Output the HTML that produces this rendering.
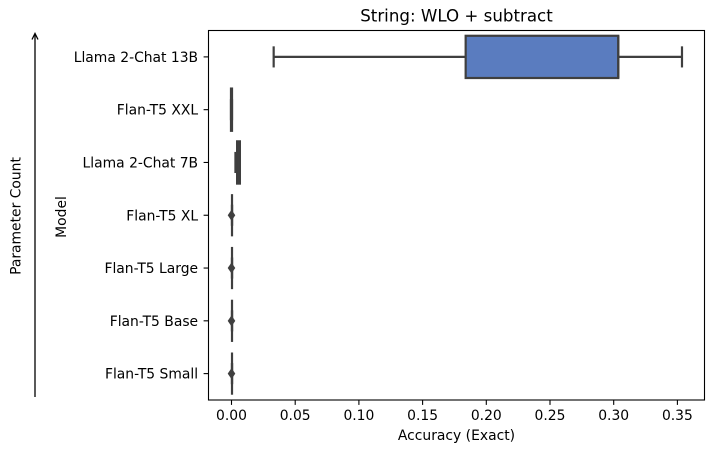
<!DOCTYPE html>
<html>
<head>
<meta charset="utf-8">
<style>
html,body{margin:0;padding:0;background:#fff;}
svg{display:block;}
text{font-family:"DejaVu Sans","Liberation Sans",sans-serif;fill:#000;}
</style>
</head>
<body>
<svg id="chart" xmlns="http://www.w3.org/2000/svg" width="714" height="453" viewBox="0 0 714 453">
  <rect x="0" y="0" width="714" height="453" fill="#fff"/>
  <text x="456.5" y="21.5" font-size="16.67" text-anchor="middle">String: WLO + subtract</text>
  <text x="456.5" y="440" font-size="13.89" text-anchor="middle">Accuracy (Exact)</text>
  <text transform="translate(66,217) rotate(-90)" font-size="13.89" text-anchor="middle">Model</text>
  <text transform="translate(20.5,216) rotate(-90)" font-size="13.89" text-anchor="middle">Parameter Count</text>
  <g fill="none" stroke="#000" stroke-width="1.3">
    <line x1="35" y1="397" x2="35" y2="34"/>
    <path d="M32 39.5 L35 33.5 L38 39.5"/>
  </g>
  <g id="marks"></g>
  <g id="axes"></g>
</svg>
<script>
const categories = ["Llama 2-Chat 13B","Flan-T5 XXL","Llama 2-Chat 7B","Flan-T5 XL","Flan-T5 Large","Flan-T5 Base","Flan-T5 Small"];
const whiskerLow = [0.0331,-0.0004,0.0031,0.0004,0.0004,0.0004,0.0004];
const q1Values = [0.1838,-0.0004,0.0044,0.0004,0.0004,0.0004,0.0004];
const medianValues = [0.3036,0.0000,0.0055,0.0004,0.0004,0.0004,0.0004];
const q3Values = [0.3036,0.0004,0.0066,0.0004,0.0004,0.0004,0.0004];
const whiskerHigh = [0.3536,0.0004,0.0066,0.0004,0.0004,0.0004,0.0004];
const outlierValues = [[],[],[],[0],[0],[0],[0]];
const xTicks = [0,0.05,0.10,0.15,0.20,0.25,0.30,0.35];
const xTickLabels = ["0.00","0.05","0.10","0.15","0.20","0.25","0.30","0.35"];

const NS = "http://www.w3.org/2000/svg";
const plot = {left:208.5,right:704.5,top:30.5,bottom:400};
const lineColor = "#3f3f3f";
const boxFill = "#5a7cbf";
const lineWidth = 2.2;
const bandHeight = (plot.bottom - plot.top) / categories.length;
function xScale(v){ return 231.5 + v * 1274; }
function yScale(i){ return plot.top + bandHeight * (i + 0.5); }
function make(tag, parent, props){
  const el = document.createElementNS(NS, tag);
  for (const k in props) el.setAttribute(k, props[k]);
  parent.appendChild(el);
  return el;
}
const marks = document.getElementById("marks");
const axes = document.getElementById("axes");

categories.forEach(function(cat, i){
  const cy = yScale(i);
  const half = bandHeight * 0.4;
  const capHalf = half / 2;
  const g = make("g", marks, {});
  
  

  const wl = make("line", g, {x1:xScale(whiskerLow[i]),x2:xScale(q1Values[i]),y1:cy,y2:cy,stroke:lineColor,"stroke-width":lineWidth});
  
  

  const wh = make("line", g, {x1:xScale(q3Values[i]),x2:xScale(whiskerHigh[i]),y1:cy,y2:cy,stroke:lineColor,"stroke-width":lineWidth});
  
  

  const cl = make("line", g, {x1:xScale(whiskerLow[i]),x2:xScale(whiskerLow[i]),y1:cy-capHalf,y2:cy+capHalf,stroke:lineColor,"stroke-width":lineWidth});
  
  

  const ch = make("line", g, {x1:xScale(whiskerHigh[i]),x2:xScale(whiskerHigh[i]),y1:cy-capHalf,y2:cy+capHalf,stroke:lineColor,"stroke-width":lineWidth});
  
  

  const box = make("rect", g, {x:xScale(q1Values[i]),y:cy-half,width:xScale(q3Values[i])-xScale(q1Values[i]),height:half*2,fill:boxFill,stroke:lineColor,"stroke-width":lineWidth});
  
  

  const med = make("line", g, {x1:xScale(medianValues[i]),x2:xScale(medianValues[i]),y1:cy-half,y2:cy+half,stroke:lineColor,"stroke-width":lineWidth});
  
  

  outlierValues[i].forEach(function(v){
    const px = xScale(v);
    const o = make("path", g, {d:"M"+(px-3.8)+" "+cy+" L"+px+" "+(cy-5.5)+" L"+(px+3.8)+" "+cy+" L"+px+" "+(cy+5.5)+" Z",fill:lineColor});
    
    
  });

  const tick = make("line", axes, {x1:plot.left-4.9,x2:plot.left,y1:cy,y2:cy,stroke:"#000","stroke-width":1.1});
  
  

  const label = make("text", axes, {x:plot.left-10.4,y:cy+5,"font-size":"13.89","text-anchor":"end"});
  label.textContent = cat;
  
  
});

xTicks.forEach(function(v, i){
  const px = xScale(v);
  const tick = make("line", axes, {x1:px,x2:px,y1:plot.bottom,y2:plot.bottom+4.9,stroke:"#000","stroke-width":1.1});
  
  

  const label = make("text", axes, {x:px,y:plot.bottom+20,"font-size":"13.89","text-anchor":"middle"});
  label.textContent = xTickLabels[i];
  
  
});

const frame = make("rect", axes, {x:plot.left,y:plot.top,width:plot.right-plot.left,height:plot.bottom-plot.top,fill:"none",stroke:"#000","stroke-width":1.1});


</script>
</body>
</html>
